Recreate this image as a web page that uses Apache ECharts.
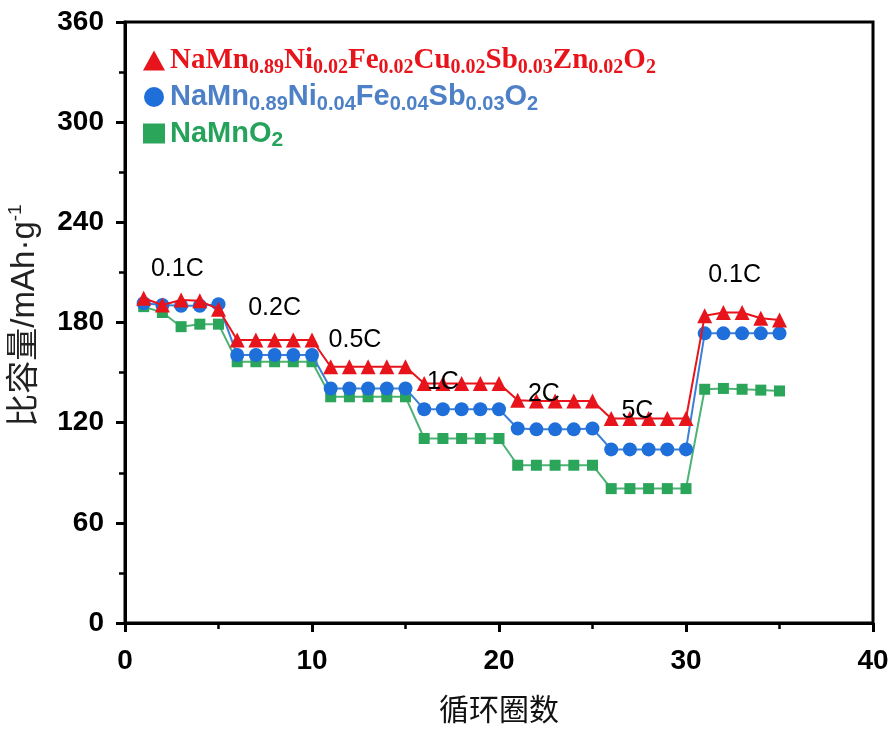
<!DOCTYPE html>
<html>
<head>
<meta charset="utf-8">
<script src="https://cdn.jsdelivr.net/npm/echarts@6/dist/echarts.min.js"></script>
<style>html,body{margin:0;padding:0;background:#fff;}#c{width:895px;height:731px;}</style>
</head>
<body>
<div id="c"></div>
<script>
// ---- data ----
const cycles = [1,2,3,4,5,6,7,8,9,10,11,12,13,14,15,16,17,18,19,20,21,22,23,24,25,26,27,28,29,30,31,32,33,34,35];
const seriesNames = ['NaMn0.89Ni0.02Fe0.02Cu0.02Sb0.03Zn0.02O2', 'NaMn0.89Ni0.04Fe0.04Sb0.03O2', 'NaMnO2'];
const redValues = [194.5,190.5,193.5,193,188, 169.5,169.5,169.5,169.5,169.5, 153.5,153.5,153.5,153.5,153.5, 143.5,143.5,143.5,143.5,143.5, 133.5,133,133,133,133, 122.5,122.5,122.5,122.5,122.5, 184,186,186,182.5,181.5];
const blueValues = [191.5,190.5,190,190,191, 160.5,160.5,160.5,160.5,160.5, 140.5,140.5,140.5,140.5,140.5, 128,128,128,128,128, 116.5,116,116,116,116.5, 104,104,104,104,104, 173.5,173.5,173.5,173.5,173.5];
const greenValues = [189.5,186,177.5,179,179, 156.5,156.5,156.5,156.5,156.5, 135.5,135.5,135.5,135.5,135.5, 110.5,110.5,110.5,110.5,110.5, 94.5,94.5,94.5,94.5,94.5, 80.5,80.5,80.5,80.5,80.5, 140,140.5,140,139.5,139];
const rateLabels = ['0.1C','0.2C','0.5C','1C','2C','5C','0.1C'];
const rateLabelX = [2.8, 8.0, 12.3, 17.0, 22.4, 27.4, 32.6];
const rateLabelY = [212, 188.5, 169.5, 144, 137, 127, 208.5];
const yTicks = [0, 60, 120, 180, 240, 300, 360];
const xTicks = [0, 10, 20, 30, 40];

// ---- build ----
const pairs = v => cycles.map((c, i) => [c, v[i]]);
const legendRich = {};
legendRich[seriesNames[0]] = '{rm|NaMn}{rs|0.89}{rm|Ni}{rs|0.02}{rm|Fe}{rs|0.02}{rm|Cu}{rs|0.02}{rm|Sb}{rs|0.03}{rm|Zn}{rs|0.02}{rm|O}{rs|2}';
legendRich[seriesNames[1]] = '{bm|NaMn}{bs|0.89}{bm|Ni}{bs|0.04}{bm|Fe}{bs|0.04}{bm|Sb}{bs|0.03}{bm|O}{bs|2}';
legendRich[seriesNames[2]] = '{gm|NaMnO}{gs|2}';

const RED = '#e8141b', BLUE = '#1e6fd9', GREEN = '#2aa55a';
const SANS = "'Liberation Sans', Arial, sans-serif";
const SERIF = "'Liberation Serif', 'Times New Roman', serif";
const subPad = [14, 0, 0, 0];

const chart = echarts.init(document.getElementById('c'), null, {renderer: 'canvas'});
chart.setOption({
  backgroundColor: '#fff',
  animation: false,
  grid: {left: 125, right: 22, top: 22, bottom: 108, show: true, borderColor: '#000', borderWidth: 3,
         backgroundColor: 'transparent', containLabel: false, outerBoundsMode: 'none'},
  legend: {
    orient: 'vertical', left: 138, top: 41, itemGap: 5, itemWidth: 22, itemHeight: 20,
    data: [
      {name: seriesNames[0], icon: 'triangle'},
      {name: seriesNames[1], icon: 'circle'},
      {name: seriesNames[2], icon: 'rect'}
    ],
    formatter: n => legendRich[n],
    textStyle: {
      rich: {
        rm: {fontFamily: SERIF, fontWeight: 'bold', fontSize: 29, color: RED},
        rs: {fontFamily: SERIF, fontWeight: 'bold', fontSize: 20, color: RED, padding: subPad},
        bm: {fontFamily: SANS, fontWeight: 'bold', fontSize: 29, color: '#4d80c6'},
        bs: {fontFamily: SANS, fontWeight: 'bold', fontSize: 20, color: '#4d80c6', padding: subPad},
        gm: {fontFamily: SANS, fontWeight: 'bold', fontSize: 29, color: '#25a35a'},
        gs: {fontFamily: SANS, fontWeight: 'bold', fontSize: 21, color: '#25a35a', padding: subPad}
      }
    }
  },
  xAxis: {
    type: 'value', min: xTicks[0], max: xTicks[xTicks.length - 1], interval: 10,
    name: '循环圈数', nameLocation: 'middle', nameGap: 71,
    nameTextStyle: {fontFamily: "'Noto Sans CJK SC'", fontSize: 30, color: '#111'},
    axisLine: {lineStyle: {color: '#000', width: 3}},
    axisTick: {inside: false, length: 9, lineStyle: {width: 3, color: '#000'}},
    minorTick: {show: true, splitNumber: 2, length: 6, lineStyle: {width: 2.5, color: '#000'}},
    splitLine: {show: false},
    axisLabel: {fontFamily: SANS, fontWeight: 'bold', fontSize: 28, color: '#000', margin: 24}
  },
  yAxis: {
    type: 'value', min: yTicks[0], max: yTicks[yTicks.length - 1], interval: 60,
    name: '{a|比容量/mAh·g}{sup|-1}', nameLocation: 'middle', nameGap: 82, nameRotate: 90,
    nameTextStyle: {
      padding: [0, 0, 0, 14],
      rich: {
        a: {fontFamily: "'Liberation Sans','Noto Sans CJK SC'", fontSize: 33, color: '#222'},
        sup: {fontFamily: SANS, fontSize: 19, color: '#222', padding: [0, 0, 18, 0]}
      }
    },
    axisLine: {lineStyle: {color: '#000', width: 3}},
    axisTick: {inside: false, length: 9, lineStyle: {width: 3, color: '#000'}},
    minorTick: {show: true, splitNumber: 2, length: 6, lineStyle: {width: 2.5, color: '#000'}},
    splitLine: {show: false},
    axisLabel: {fontFamily: SANS, fontWeight: 'bold', fontSize: 28, color: '#000', margin: 21}
  },
  series: [
    {name: seriesNames[2], type: 'line', data: pairs(greenValues), symbol: 'rect', symbolSize: 11,
     itemStyle: {color: GREEN}, lineStyle: {color: '#4db374', width: 2}, z: 2},
    {name: seriesNames[1], type: 'line', data: pairs(blueValues), symbol: 'circle', symbolSize: 14,
     itemStyle: {color: BLUE}, lineStyle: {color: '#3a7fd8', width: 2}, z: 3},
    {name: seriesNames[0], type: 'line', data: pairs(redValues), symbol: 'triangle', symbolSize: 15,
     itemStyle: {color: RED}, lineStyle: {color: RED, width: 2}, z: 4},
    {name: 'rates', type: 'scatter', symbolSize: 0, silent: true, z: 5,
     data: rateLabels.map((t, i) => [rateLabelX[i], rateLabelY[i], t]),
     label: {show: true, position: 'inside', formatter: p => p.value[2],
             fontFamily: SANS, fontSize: 25, color: '#000', opacity: 1}}
  ]
});
</script>
</body>
</html>
